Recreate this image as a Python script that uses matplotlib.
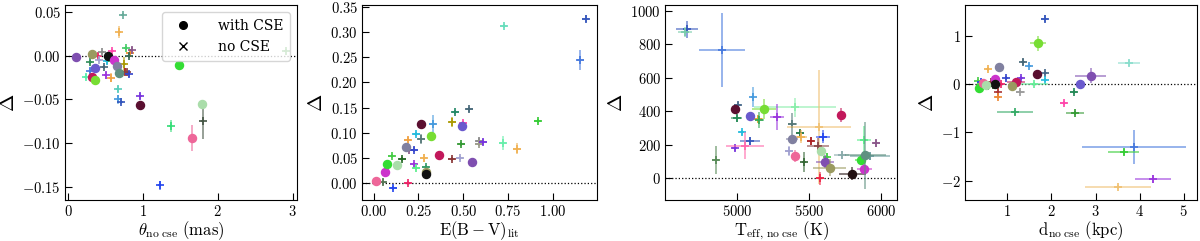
import matplotlib
matplotlib.use('Agg')
import matplotlib.pyplot as plt
from matplotlib.ticker import FuncFormatter
from matplotlib.lines import Line2D

plt.rcParams['font.family'] = 'DejaVu Serif'
plt.rcParams['mathtext.fontset'] = 'cm'

# ---- panel 1 : angular diameter ----
p1c_x = [0.10, 0.32, 0.53, 0.31, 0.36, 0.36, 0.61, 0.65, 0.68, 0.96, 1.48, 1.65, 1.79]
p1c_y = [-0.001, 0.0015, 0.000, -0.024, -0.028, -0.014, -0.0045, -0.012, -0.020, -0.056, -0.010, -0.094, -0.055]
p1c_xe = [0.01] * 13
p1c_ye = [0.001, 0.001, 0.001, 0.001, 0.001, 0.001, 0.001, 0.001, 0.001, 0.001, 0.001, 0.015, 0.001]
p1c_col = ['#7f4fb0', '#9a9a60', '#111111', '#c2185b', '#77dd33', '#6a5acd', '#cc33cc', '#8080a0',
           '#5f9080', '#5a0f30', '#33dd33', '#ee6699', '#aaddaa']

p1x_x = [0.73, 0.68, 2.91, 0.39, 0.29, 0.45, 0.41, 0.29, 0.23, 0.50, 0.57, 0.47, 0.59, 0.51, 0.54,
         0.66, 0.67, 0.71, 0.75, 0.76, 0.78, 0.81, 0.77, 0.83, 0.85, 0.81, 0.96, 1.37, 1.22, 1.80]
p1x_y = [0.047, 0.027, 0.006, 0.000, -0.007, 0.004, -0.005, -0.017, -0.024, -0.022, -0.025, -0.013,
         0.006, -0.006, -0.002, -0.038, -0.050, -0.053, -0.009, -0.018, -0.019, -0.021, 0.009, 0.003,
         0.007, 0.000, -0.046, -0.080, -0.148, -0.075]
p1x_xe = [0.02] * 30
p1x_ye = [0.002, 0.007, 0.002, 0.003, 0.002, 0.002, 0.002, 0.003, 0.003, 0.004, 0.005, 0.002,
          0.002, 0.003, 0.002, 0.003, 0.005, 0.002, 0.008, 0.004, 0.004, 0.003, 0.002, 0.004,
          0.003, 0.003, 0.003, 0.007, 0.005, 0.020]
p1x_col = ['#66aa99', '#f0b050', '#339933', '#ee2266', '#2e8b57', '#888888', '#a0a0d0', '#4477dd',
           '#55eeaa', '#9933dd', '#f0a040', '#446677', '#ff44aa', '#22bbdd', '#44cc44', '#55ccbb',
           '#4499dd', '#3355bb', '#aa9900', '#aa2222', '#884444', '#3344cc', '#44cc66', '#ee8822',
           '#885588', '#336655', '#7733dd', '#33dd77', '#2244ee', '#445544']

# ---- panel 2 : E(B-V) ----
p2c_x = [0.015, 0.063, 0.076, 0.13, 0.18, 0.264, 0.32, 0.29, 0.294, 0.366, 0.495, 0.55]
p2c_y = [0.005, 0.023, 0.038, 0.036, 0.072, 0.117, 0.093, 0.023, 0.019, 0.056, 0.113, 0.042]
p2c_xe = [0.005] * 12
p2c_ye = [0.004, 0.002, 0.002, 0.002, 0.002, 0.003, 0.002, 0.003, 0.005, 0.003, 0.003, 0.002]
p2c_col = ['#ee6699', '#cc33cc', '#33dd33', '#aaddaa', '#8080a0', '#5a0f30', '#77dd33', '#9a9a60',
           '#111111', '#c2185b', '#6a5acd', '#7f4fb0']

p2x_x = [0.05, 0.11, 0.19, 0.10, 0.16, 0.19, 0.195, 0.227, 0.238, 0.266, 0.223, 0.238, 0.28, 0.29,
         0.33, 0.44, 0.456, 0.535, 0.50, 0.435, 0.48, 0.49, 0.59, 0.586, 0.61, 0.725, 0.72, 0.80,
         0.917, 1.153, 1.183]
p2x_y = [0.002, -0.010, 0.000, 0.055, 0.048, 0.086, 0.066, 0.067, 0.097, 0.087, 0.038, 0.030, 0.051,
         0.032, 0.117, 0.122, 0.142, 0.147, 0.119, 0.048, 0.050, 0.077, 0.083, 0.078, 0.082, 0.312,
         0.080, 0.069, 0.124, 0.245, 0.326]
p2x_xe = [0.02] * 31
p2x_ye = [0.006, 0.004, 0.004, 0.004, 0.004, 0.006, 0.004, 0.004, 0.004, 0.010, 0.005, 0.004, 0.008,
          0.005, 0.018, 0.010, 0.004, 0.005, 0.004, 0.004, 0.004, 0.004, 0.006, 0.004, 0.006, 0.004,
          0.013, 0.010, 0.004, 0.020, 0.007]
p2x_col = ['#557755', '#2244ee', '#ee2266', '#44cc44', '#226622', '#f0a040', '#885588', '#3344cc',
           '#22bbdd', '#557777', '#9933dd', '#55ee88', '#f0b050', '#339966', '#4499dd', '#aa9900',
           '#228866', '#446677', '#ff44aa', '#883333', '#a0a0d0', '#339933', '#888888', '#999988',
           '#7733dd', '#66ddbb', '#66eeaa', '#f0b050', '#33cc33', '#4477dd', '#3355bb']

# ---- panel 3 : Teff ----
p3c_x = [4981, 5090, 5183, 5380, 5404, 5582, 5610, 5643, 5721, 5858, 5800, 5884, 5891]
p3c_y = [412, 374, 412, 233, 133, 163, 99, 62, 378, 109, 28, 56, 137]
p3c_xe = [15, 20, 84, 40, 30, 30, 60, 116, 30, 40, 93, 50, 140]
p3c_ye = [20, 15, 60, 25, 35, 25, 40, 50, 40, 30, 40, 30, 200]
p3c_col = ['#5a0f30', '#6a5acd', '#77dd33', '#8080a0', '#ee6699', '#aaddaa', '#7f4fb0', '#9a9a60',
           '#c2185b', '#33dd33', '#221111', '#cc33cc', '#5f9080']

p3x_x = [4652, 4636, 4896, 5002, 5107, 4995, 5030, 4981, 5090, 5053, 4849, 5146, 5153, 5401, 5274,
         5383, 5436, 5443, 5568, 5598, 5510, 5561, 5360, 5464, 5575, 5622, 5726, 5882, 5967, 5923]
p3x_y = [889, 871, 765, 437, 487, 358, 274, 181, 221, 195, 109, 354, 348, 423, 366,
         322, 268, 248, 306, 248, 223, 195, 165, 95, 0, 129, 137, 229, 209, 130]
p3x_xe = [77, 50, 160, 25, 10, 40, 15, 15, 70, 130, 25, 30, 30, 284, 50,
          30, 30, 40, 220, 50, 25, 75, 30, 15, 30, 15, 50, 50, 25, 140]
p3x_ye = [50, 30, 220, 20, 60, 20, 15, 20, 25, 80, 85, 20, 50, 55, 80,
          70, 20, 40, 340, 40, 25, 45, 30, 60, 40, 20, 25, 80, 20, 20]
p3x_col = ['#3355bb', '#77ccaa', '#4477dd', '#446688', '#4499dd', '#228855', '#22bbdd', '#7733dd',
           '#3355bb', '#ff66aa', '#558855', '#e0a030', '#33aa55', '#88eeaa', '#9933dd', '#557777',
           '#227744', '#f0b050', '#f0c070', '#2244ee', '#aa2222', '#884444', '#a0a0d0', '#336633',
           '#ee2244', '#44cc44', '#88aaaa', '#55ee88', '#885588', '#669999']

# ---- panel 4 : distance ----
p4c_x = [1.69, 0.80, 1.68, 0.71, 1.20, 1.11, 0.71, 0.35, 2.65, 2.89, 0.44, 0.52]
p4c_y = [0.84, 0.34, 0.21, 0.10, 0.03, -0.04, -0.01, -0.09, 0.00, 0.17, 0.01, -0.02]
p4c_xe = [0.18, 0.03, 0.03, 0.03, 0.20, 0.10, 0.03, 0.03, 0.05, 0.35, 0.05, 0.05]
p4c_ye = [0.15, 0.03, 0.03, 0.05, 0.08, 0.05, 0.03, 0.03, 0.03, 0.15, 0.03, 0.03]
p4c_col = ['#77dd33', '#8080a0', '#5a0f30', '#cc33cc', '#c2185b', '#9a9a60', '#111111', '#33dd33',
           '#6a5acd', '#7f4fb0', '#ee6699', '#aaddaa']

p4x_x = [1.85, 1.35, 1.50, 0.55, 0.98, 1.31, 1.86, 1.86, 3.75, 1.61, 1.29, 0.78, 0.78, 2.28, 2.50,
         2.53, 1.17, 3.88, 3.64, 4.30, 3.51, 0.34, 0.41, 0.55, 0.50, 0.63, 0.68, 0.85]
p4x_y = [1.35, 0.45, 0.38, 0.31, 0.12, 0.12, 0.23, 0.09, 0.43, 0.00, -0.16, -0.16, -0.27, -0.39,
         -0.17, -0.60, -0.59, -1.30, -1.40, -1.97, -2.13, 0.06, 0.05, -0.05, -0.03, 0.03, -0.03, 0.00]
p4x_xe = [0.08, 0.05, 0.04, 0.04, 0.04, 0.04, 0.04, 0.04, 0.25, 0.30, 0.10, 0.04, 0.06, 0.08, 0.07,
          0.20, 0.40, 1.18, 0.35, 0.40, 0.75, 0.04, 0.04, 0.04, 0.04, 0.04, 0.04, 0.04]
p4x_ye = [0.08, 0.06, 0.04, 0.04, 0.04, 0.04, 0.04, 0.04, 0.06, 0.05, 0.03, 0.05, 0.04, 0.04, 0.04,
          0.04, 0.05, 0.35, 0.06, 0.08, 0.05, 0.04, 0.04, 0.04, 0.04, 0.04, 0.04, 0.04]
p4x_col = ['#3355bb', '#446677', '#4499dd', '#f0b050', '#3344cc', '#7733dd', '#446688', '#22bbdd',
           '#88ddcc', '#66ee99', '#999999', '#aa3333', '#ee8833', '#ff44aa', '#228855', '#339933',
           '#33aa66', '#4477dd', '#33cc33', '#9933dd', '#f0c070', '#44cc44', '#2244ee', '#226622',
           '#888888', '#883333', '#226622', '#ee2266']


def draw(ax, x, y, xe, ye, cols, marker):
    for xi, yi, xei, yei, c in zip(x, y, xe, ye, cols):
        ax.errorbar(xi, yi, xerr=xei, yerr=yei, fmt='none', ecolor=c, elinewidth=1.3, alpha=0.6)
        if marker == 'o':
            ax.plot(xi, yi, 'o', color=c, ms=5.8, mec=c)
        else:
            ax.plot(xi, yi, '+', color=c, ms=6, mew=1.2)


def mfmt(fmt):
    return FuncFormatter(lambda v, p: '$' + format(v, fmt) + '$')


fig = plt.figure(figsize=(12, 2.41), dpi=100)
axes = [fig.add_axes([0.0542, 0.170, 0.1933, 0.809]),
        fig.add_axes([0.3017, 0.170, 0.1958, 0.809]),
        fig.add_axes([0.5542, 0.170, 0.1933, 0.809]),
        fig.add_axes([0.8042, 0.170, 0.1933, 0.809])]

panels = [
    (p1c_x, p1c_y, p1c_xe, p1c_ye, p1c_col, p1x_x, p1x_y, p1x_xe, p1x_ye, p1x_col),
    (p2c_x, p2c_y, p2c_xe, p2c_ye, p2c_col, p2x_x, p2x_y, p2x_xe, p2x_ye, p2x_col),
    (p3c_x, p3c_y, p3c_xe, p3c_ye, p3c_col, p3x_x, p3x_y, p3x_xe, p3x_ye, p3x_col),
    (p4c_x, p4c_y, p4c_xe, p4c_ye, p4c_col, p4x_x, p4x_y, p4x_xe, p4x_ye, p4x_col),
]
xlabels = [r'$\theta_{\rm no\ cse}\ \rm (mas)$', r'$\rm E(B-V)_{lit}$',
           r'$\rm T_{eff,\,no\ cse}\ (K)$', r'$\rm d_{no\ cse}\ (kpc)$']
xlims = [(-0.045, 3.06), (-0.065, 1.247), (4497, 6111), (0.04, 5.30)]
ylims = [(-0.165, 0.058), (-0.033, 0.353), (-130, 1034), (-2.40, 1.63)]
xfmts = ['.0f', '.2f', '.0f', '.0f']
yfmts = ['.2f', '.2f', '.0f', '.0f']
xticks = [[0, 1, 2, 3], [0, 0.25, 0.5, 0.75, 1.0], [5000, 5500, 6000], [1, 2, 3, 4, 5]]
yticks = [[-0.15, -0.10, -0.05, 0, 0.05], [0, 0.05, 0.1, 0.15, 0.2, 0.25, 0.3, 0.35],
          [0, 200, 400, 600, 800, 1000], [-2, -1, 0, 1]]

for i, ax in enumerate(axes):
    cx, cy, cxe, cye, ccol, xx, xy, xxe, xye, xcol = panels[i]
    ax.axhline(0, color='k', ls=':', lw=0.9, zorder=0)
    draw(ax, xx, xy, xxe, xye, xcol, '+')
    draw(ax, cx, cy, cxe, cye, ccol, 'o')
    ax.set_xlim(*xlims[i])
    ax.set_ylim(*ylims[i])
    ax.set_xticks(xticks[i])
    ax.set_yticks(yticks[i])
    ax.xaxis.set_major_formatter(mfmt(xfmts[i]))
    ax.yaxis.set_major_formatter(mfmt(yfmts[i]))
    ax.tick_params(direction='in', length=5, labelsize=10.5, pad=3)
    ax.set_xlabel(xlabels[i], fontsize=12, labelpad=0)
    ax.set_ylabel(r'$\Delta$', fontsize=15, labelpad=3)

handles = [Line2D([], [], marker='o', color='k', ls='none', ms=5.5),
           Line2D([], [], marker='x', color='k', ls='none', ms=5.5)]
leg = axes[0].legend(handles, ['with CSE', 'no CSE'], loc='upper right',
                     prop={'family': 'DejaVu Serif', 'size': 10}, handletextpad=1.5,
                     borderpad=0.5)

fig.savefig('out.png', dpi=100)
